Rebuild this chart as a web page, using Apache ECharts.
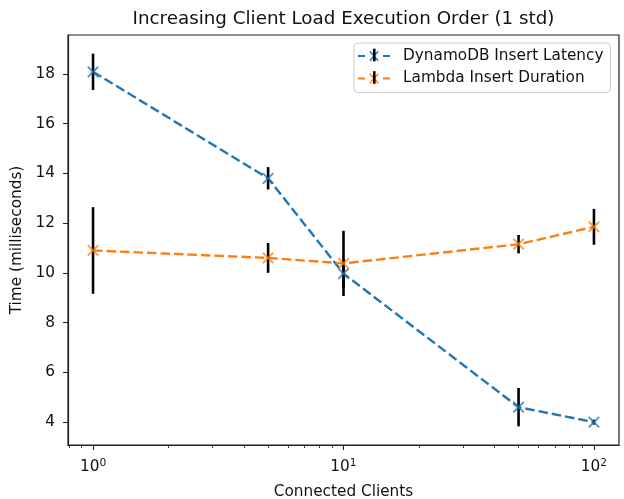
<!DOCTYPE html>
<html>
<head>
<meta charset="utf-8">
<script src="https://cdn.jsdelivr.net/npm/echarts@6/dist/echarts.min.js"></script>
<style>html,body{margin:0;padding:0;background:#fff}#c{width:624px;height:499px}</style>
</head>
<body>
<div id="c"></div>
<script>
// ---- data ----
const clients = [1, 5, 10, 50, 100];
const dynamoMean = [18.08, 13.8, 9.97, 4.6, 4.0];
const dynamoStd = [0.73, 0.45, 0.6, 0.77, 0.1];
const lambdaMean = [10.9, 10.6, 10.38, 11.15, 11.85];
const lambdaStd = [1.74, 0.6, 1.31, 0.37, 0.72];
const seriesNames = ['DynamoDB Insert Latency', 'Lambda Insert Duration'];
const yTicks = [4, 6, 8, 10, 12, 14, 16, 18];
const xMajorTicks = [1, 10, 100];
const xMinorTicks = [0.8, 0.9, 2, 3, 4, 5, 6, 7, 8, 9, 20, 30, 40, 50, 60, 70, 80, 90];

const FONT = 'DejaVu Sans';
const TXT = '#111';
const FS = 15.3;
const C1 = '#1f77b4', C2 = '#ff7f0e';

// axis limits with matplotlib-style 5% margins
const lx = clients.map(Math.log10);
const lxMin = Math.min(...lx), lxMax = Math.max(...lx);
const lxPad = (lxMax - lxMin) * 0.05;
const xMin = Math.pow(10, lxMin - lxPad), xMax = Math.pow(10, lxMax + lxPad);
const allLo = dynamoMean.map((v, i) => v - dynamoStd[i]).concat(lambdaMean.map((v, i) => v - lambdaStd[i]));
const allHi = dynamoMean.map((v, i) => v + dynamoStd[i]).concat(lambdaMean.map((v, i) => v + lambdaStd[i]));
const yLo = Math.min(...allLo), yHi = Math.max(...allHi);
const yPad = (yHi - yLo) * 0.05;
const yMin = yLo - yPad, yMax = yHi + yPad;

const pts = (m) => clients.map((x, i) => [x, m[i]]);
const errData = (m, s) => clients.map((x, i) => [x, m[i] - s[i], m[i] + s[i]]);

function errRender(params, api) {
  const x = api.value(0);
  const p1 = api.coord([x, api.value(1)]);
  const p2 = api.coord([x, api.value(2)]);
  return { type: 'line', shape: { x1: p1[0], y1: p1[1], x2: p2[0], y2: p2[1] },
           style: { stroke: '#000', lineWidth: 2.6 } };
}

const xMarker = 'path://M0,0L10,10M10,0L0,10';
const legendIcon = 'path://M0,0L0.01,0L0.01,0.01Z M31.99,13.99L32,14L31.99,14Z ' +
  'M0,6L7,6L7,8L0,8Z M25,6L32,6L32,8L25,8Z ' +
  'M11.3,2.7L12.3,1.7L20.7,11.3L19.7,12.3Z M19.7,1.7L20.7,2.7L12.3,12.3L11.3,11.3Z';

const chart = echarts.init(document.getElementById('c'), null, { renderer: 'canvas' });
chart.setOption({
  animation: false,
  textStyle: { fontFamily: FONT },
  title: {
    text: 'Increasing Client Load Execution Order (1 std)',
    left: 343.5, textAlign: 'center', top: 10, padding: 0,
    textStyle: { fontFamily: FONT, fontSize: 18.3, fontWeight: 'normal', color: TXT }
  },
  legend: {
    left: 354, top: 43, orient: 'vertical',
    padding: [4.5, 7, 5.5, 4], itemGap: 5.5,
    itemWidth: 32, itemHeight: 14,
    backgroundColor: 'rgba(255,255,255,0.8)', borderColor: '#cccccc', borderWidth: 1, borderRadius: 4,
    data: [{ name: seriesNames[0], icon: legendIcon }, { name: seriesNames[1], icon: legendIcon }],
    textStyle: { fontFamily: FONT, fontSize: FS, color: TXT, lineHeight: 17, padding: [0, 0, 0, 8] }
  },
  graphic: [
    { type: 'line', shape: { x1: 374.3, y1: 48.7, x2: 374.3, y2: 61.3 }, style: { stroke: '#000', lineWidth: 2.6 }, z: 100 },
    { type: 'line', shape: { x1: 374.3, y1: 71.2, x2: 374.3, y2: 83.8 }, style: { stroke: '#000', lineWidth: 2.6 }, z: 100 }
  ],
  grid: { left: 68, top: 35, right: 5, bottom: 54, show: true, borderColor: '#222', borderWidth: 1.2,
          backgroundColor: 'transparent', containLabel: false, outerBoundsMode: 'none' },
  xAxis: [{
    type: 'log', logBase: 10, min: xMin, max: xMax,
    name: 'Connected Clients', nameLocation: 'middle', nameGap: 40,
    nameTextStyle: { fontFamily: FONT, fontSize: FS, color: TXT },
    axisLine: { lineStyle: { color: '#222', width: 1.2 } },
    axisTick: { show: true, length: 5, lineStyle: { color: '#222', width: 1.1 }, customValues: xMajorTicks },
    axisLabel: {
      customValues: xMajorTicks, margin: 13, color: TXT,
      formatter: (v) => '{b|10}{s|' + Math.round(Math.log10(v)) + '}',
      rich: { b: { fontFamily: FONT, fontSize: FS, color: TXT },
              s: { fontFamily: FONT, fontSize: 10.7, color: TXT, padding: [0, 0, 8, 0] } }
    },
    splitLine: { show: false }
  }, {
    type: 'log', logBase: 10, min: xMin, max: xMax, position: 'bottom',
    axisLine: { show: false },
    axisTick: { show: true, length: 3, lineStyle: { color: '#222', width: 0.9 }, customValues: xMinorTicks },
    axisLabel: { show: false },
    splitLine: { show: false }
  }],
  yAxis: {
    type: 'value', min: yMin, max: yMax,
    name: 'Time (milliseconds)', nameLocation: 'middle', nameGap: 33,
    nameTextStyle: { fontFamily: FONT, fontSize: FS, color: TXT },
    axisLine: { show: true, lineStyle: { color: '#222', width: 1.2 } },
    axisTick: { show: true, length: 5, lineStyle: { color: '#222', width: 1.1 }, customValues: yTicks },
    axisLabel: { customValues: yTicks, margin: 13, fontFamily: FONT, fontSize: FS, color: TXT },
    splitLine: { show: false }
  },
  series: [
    { name: seriesNames[0], type: 'line', data: pts(dynamoMean), showSymbol: false, symbol: 'none',
      itemStyle: { color: C1 }, lineStyle: { color: C1, width: 2.4, type: [9.5, 4] }, z: 2 },
    { name: seriesNames[1], type: 'line', data: pts(lambdaMean), showSymbol: false, symbol: 'none',
      itemStyle: { color: C2 }, lineStyle: { color: C2, width: 2.4, type: [9.5, 4] }, z: 2 },
    { type: 'custom', name: 'errD', renderItem: errRender, data: errData(dynamoMean, dynamoStd),
      encode: { x: 0, y: [1, 2] }, z: 3 },
    { type: 'custom', name: 'errL', renderItem: errRender, data: errData(lambdaMean, lambdaStd),
      encode: { x: 0, y: [1, 2] }, z: 3 },
    { type: 'scatter', name: 'mD', data: pts(dynamoMean), symbol: xMarker, symbolSize: 10.5,
      itemStyle: { color: 'none', borderColor: C1, borderWidth: 1.8 }, z: 4 },
    { type: 'scatter', name: 'mL', data: pts(lambdaMean), symbol: xMarker, symbolSize: 10.5,
      itemStyle: { color: 'none', borderColor: C2, borderWidth: 1.8 }, z: 4 }
  ]
});
</script>
</body>
</html>
